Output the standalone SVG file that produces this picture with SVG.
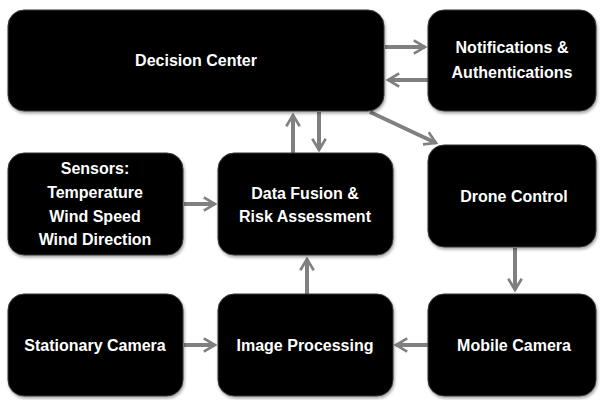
<svg xmlns="http://www.w3.org/2000/svg" width="600" height="400" viewBox="0 0 600 400">
  <defs>
    <filter id="shadow" x="-10%" y="-10%" width="120%" height="130%">
      <feDropShadow dx="1" dy="2" stdDeviation="1.5" flood-color="#000" flood-opacity="0.35"/>
    </filter>
    <marker id="arrow" viewBox="0 0 12 12" refX="9.5" refY="6" markerWidth="4.2" markerHeight="4.2" markerUnits="strokeWidth" orient="auto">
      <path d="M1.5,1.2 L9.5,6 L1.5,10.8" fill="none" stroke="#808080" stroke-width="1.9" stroke-linejoin="miter"/>
    </marker>
  </defs>
  <style>
    .box { fill: #050505; stroke: #3a3a3a; stroke-width: 1; filter: url(#shadow); }
    .lbl { fill: #ffffff; font-family: "Liberation Sans", Arial, sans-serif; font-weight: bold; font-size: 16px; text-anchor: middle; }
    .conn { stroke: #808080; stroke-width: 4; fill: none; marker-end: url(#arrow); }
  </style>

  <rect width="600" height="400" fill="#ffffff"/>

  <g id="connectors">
    <line class="conn" x1="385" y1="47" x2="425" y2="47"/>
    <line class="conn" x1="428" y1="80" x2="388" y2="80"/>
    <line class="conn" x1="293" y1="153" x2="293" y2="115"/>
    <line class="conn" x1="319" y1="112" x2="319" y2="150"/>
    <line class="conn" x1="370" y1="112" x2="436" y2="143"/>
    <line class="conn" x1="184" y1="204" x2="215" y2="204"/>
    <line class="conn" x1="515" y1="248" x2="515" y2="290"/>
    <line class="conn" x1="184" y1="345" x2="215" y2="345"/>
    <line class="conn" x1="428" y1="345" x2="396" y2="345"/>
    <line class="conn" x1="307" y1="294" x2="307" y2="259"/>
  </g>

  <g id="decision-center">
    <rect class="box" x="8" y="10" width="376" height="101" rx="16"/>
    <text class="lbl" x="196" y="66">Decision Center</text>
  </g>

  <g id="notifications">
    <rect class="box" x="428" y="10" width="168" height="101" rx="16"/>
    <text class="lbl" x="512" y="53">Notifications &amp;</text>
    <text class="lbl" x="512" y="78">Authentications</text>
  </g>

  <g id="sensors">
    <rect class="box" x="8" y="153" width="175" height="102" rx="16"/>
    <text class="lbl" x="95" y="174">Sensors:</text>
    <text class="lbl" x="95" y="198">Temperature</text>
    <text class="lbl" x="95" y="222">Wind Speed</text>
    <text class="lbl" x="95" y="245">Wind Direction</text>
  </g>

  <g id="data-fusion">
    <rect class="box" x="218" y="153" width="175" height="102" rx="16"/>
    <text class="lbl" x="305" y="199">Data Fusion &amp;</text>
    <text class="lbl" x="305" y="222">Risk Assessment</text>
  </g>

  <g id="drone-control">
    <rect class="box" x="428" y="145" width="168" height="102" rx="16"/>
    <text class="lbl" x="514" y="202">Drone Control</text>
  </g>

  <g id="stationary-camera">
    <rect class="box" x="8" y="294" width="175" height="102" rx="16"/>
    <text class="lbl" x="95" y="351">Stationary Camera</text>
  </g>

  <g id="image-processing">
    <rect class="box" x="218" y="294" width="175" height="102" rx="16"/>
    <text class="lbl" x="305" y="351">Image Processing</text>
  </g>

  <g id="mobile-camera">
    <rect class="box" x="428" y="294" width="168" height="102" rx="16"/>
    <text class="lbl" x="514" y="351">Mobile Camera</text>
  </g>
</svg>
